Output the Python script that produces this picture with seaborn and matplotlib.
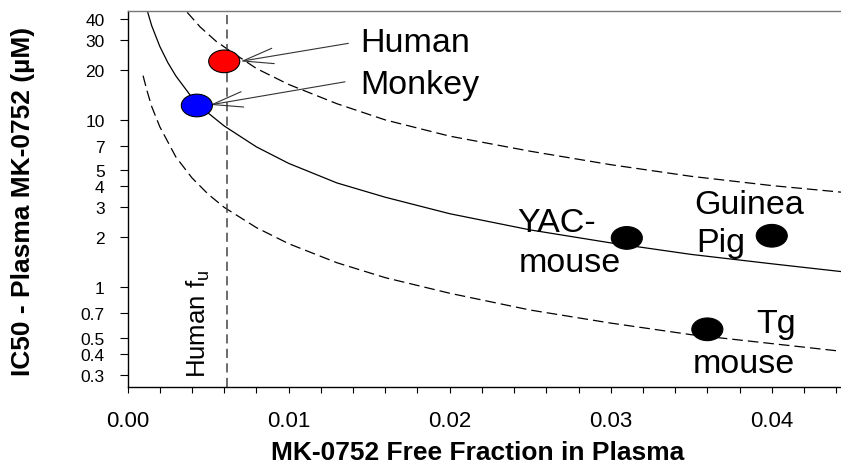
import pandas as pd
import seaborn as sns
import matplotlib.pyplot as plt
from matplotlib.path import Path
from matplotlib.transforms import Affine2D
from matplotlib.ticker import FixedLocator, MultipleLocator, NullLocator

# ==========================================
# Data
# ==========================================
species = ['Human', 'Monkey', 'YAC-mouse', 'Guinea Pig', 'Tg mouse']
free_fraction = [0.0060, 0.0043, 0.0310, 0.0400, 0.0360]
ic50 = [22.4, 12.2, 1.97, 2.03, 0.56]
point_colors = ['#ff0000', '#0000ff', '#000000', '#000000', '#000000']

human_fu = 0.0062

# solid reference curve
mid_x = [0.00125, 0.0015, 0.002, 0.0025, 0.003, 0.004, 0.005, 0.006, 0.008,
         0.010, 0.013, 0.016, 0.020, 0.025, 0.030, 0.035, 0.040, 0.0443]
mid_y = [44.0, 36.5, 27.5, 22.0, 18.3, 13.6, 11.0, 9.2, 6.9,
         5.5, 4.2, 3.45, 2.75, 2.2, 1.84, 1.57, 1.38, 1.24]

# upper dashed curve
upper_x = [0.0037, 0.0045, 0.0055, 0.0062, 0.008, 0.010, 0.013, 0.016,
           0.020, 0.025, 0.030, 0.035, 0.040, 0.0443]
upper_y = [44.0, 36.0, 29.5, 26.5, 20.3, 16.3, 12.5, 10.0,
           8.0, 6.5, 5.4, 4.6, 4.05, 3.7]

# lower dashed curve
lower_x = [0.00096, 0.0012, 0.0015, 0.002, 0.003, 0.004, 0.005, 0.006, 0.008,
           0.010, 0.013, 0.016, 0.020, 0.025, 0.030, 0.035, 0.040, 0.0443]
lower_y = [18.4, 15.0, 12.0, 9.1, 6.0, 4.5, 3.6, 3.0, 2.27,
           1.82, 1.4, 1.14, 0.92, 0.73, 0.61, 0.52, 0.46, 0.414]

x_ticks = [0.00, 0.01, 0.02, 0.03, 0.04]
x_tick_labels = ['0.00', '0.01', '0.02', '0.03', '0.04']
y_ticks = [0.3, 0.4, 0.5, 0.7, 1, 2, 3, 4, 5, 7, 10, 20, 30, 40]
y_tick_labels = ['0.3', '0.4', '0.5', '0.7', '1', '2', '3', '4', '5', '7',
                 '10', '20', '30', '40']

points = pd.DataFrame({'species': species, 'fu': free_fraction, 'ic50': ic50})
palette = dict(zip(species, point_colors))

# ==========================================
# Plot
# ==========================================
sns.set_style('ticks')
plt.rcParams['font.family'] = ['Liberation Sans', 'DejaVu Sans']
plt.rcParams['mathtext.fontset'] = 'custom'
plt.rcParams['mathtext.rm'] = 'Liberation Sans'
for key in ['text.color', 'axes.labelcolor', 'xtick.color', 'ytick.color']:
    plt.rcParams[key] = 'black'

fig = plt.figure(figsize=(8.41, 4.64), dpi=100)
ax = fig.add_axes([127.6 / 841, 1 - 388.3 / 464, 1 - 127.6 / 841, (388.3 - 12) / 464])
ax.set_yscale('log')

curve_kws = dict(color='black', lw=0.9, sort=False, estimator=None)
sns.lineplot(x=mid_x, y=mid_y, ax=ax, **curve_kws)
sns.lineplot(x=upper_x, y=upper_y, ax=ax, linestyle=(0, (8.5, 4)), **curve_kws)
sns.lineplot(x=lower_x, y=lower_y, ax=ax, linestyle=(0, (8.5, 4)), **curve_kws)

ax.axvline(human_fu, color='#444444', lw=1.1, linestyle=(0, (6, 3.5)))

# ellipse-shaped markers like the original
ellipse = Affine2D().scale(1, 0.73).transform_path(Path.unit_circle())
sns.scatterplot(data=points, x='fu', y='ic50', hue='species', palette=palette,
                marker=ellipse, s=500, edgecolor='black', linewidth=0.8,
                legend=False, ax=ax, zorder=5)

# labels for the points
label_kw = dict(fontsize=24.5, color='black', va='baseline')
ax.text(0.01443, 25.75, 'Human', ha='left', **label_kw)
ax.text(0.01443, 14.44, 'Monkey', ha='left', **label_kw)
ax.text(0.02665, 2.18, 'YAC-', ha='center', **label_kw)
ax.text(0.02748, 1.257, 'mouse', ha='center', **label_kw)
ax.text(0.03862, 2.78, 'Guinea', ha='center', **label_kw)
ax.text(0.03681, 1.655, 'Pig', ha='center', **label_kw)
ax.text(0.04026, 0.538, 'Tg', ha='center', **label_kw)
ax.text(0.03829, 0.313, 'mouse', ha='center', **label_kw)

arrow = dict(arrowstyle='->,head_length=1.1,head_width=0.28', lw=0.8,
             color='#333333', mutation_scale=20, shrinkA=0, shrinkB=0)
ax.annotate('', xy=(0.00702, 22.4), xytext=(0.01371, 28.7), arrowprops=arrow)
ax.annotate('', xy=(0.00512, 12.3), xytext=(0.0135, 16.9), arrowprops=arrow)

ax.text(0.00440, 0.292, r'Human f$_{\mathregular{u}}$', rotation=90,
        fontsize=18.5, ha='center', va='bottom', rotation_mode='default')

# axes, ticks and labels
ax.set_xlim(0, 0.0443)
ax.set_ylim(0.252, 44.8)
ax.xaxis.set_major_locator(FixedLocator(x_ticks))
ax.xaxis.set_minor_locator(MultipleLocator(0.002))
ax.set_xticklabels(x_tick_labels)
ax.yaxis.set_major_locator(FixedLocator(y_ticks))
ax.yaxis.set_minor_locator(NullLocator())
ax.set_yticklabels(y_tick_labels)

ax.tick_params(axis='x', which='both', length=4.0, width=0.8,
               labelsize=16, pad=12, direction='out')
ax.tick_params(axis='y', which='major', length=5.5, width=0.8,
               labelsize=12.5, pad=11, direction='out')

ax.set_xlabel('MK-0752 Free Fraction in Plasma', fontsize=19,
              fontweight='bold', va='center')
ax.set_ylabel('IC50 - Plasma MK-0752 (µM)', fontsize=19,
              fontweight='bold', va='center')
ax.xaxis.set_label_coords(0.4905, -0.171)
ax.yaxis.set_label_coords(-0.1466, 0.496)

for side in ['left', 'bottom']:
    ax.spines[side].set_color('black')
    ax.spines[side].set_linewidth(1.0)
ax.spines['top'].set_color('#777777')
ax.spines['top'].set_linewidth(1.0)
ax.spines['right'].set_visible(False)

plt.savefig('out.png', dpi=100)
